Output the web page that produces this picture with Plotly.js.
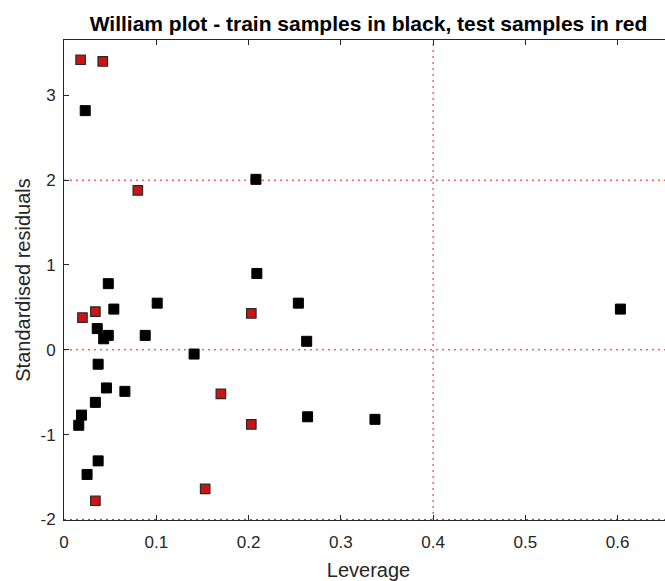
<!DOCTYPE html>
<html>
<head>
<meta charset="utf-8">
<script src="https://cdn.plot.ly/plotly-3.0.1.min.js"></script>
<style>
  html, body { margin: 0; padding: 0; background: #fff; overflow: hidden; }
  #chart { width: 675px; height: 581px; }
</style>
</head>
<body>
<div id="chart"></div>
<script>
// Training samples (black)
const trainLeverage = [0.023, 0.048, 0.101, 0.054, 0.036, 0.043, 0.048, 0.088, 0.141, 0.037,
                       0.046, 0.066, 0.034, 0.019, 0.016, 0.037, 0.025, 0.208, 0.209, 0.254,
                       0.263, 0.264, 0.337, 0.603];
const trainResidual = [2.82, 0.78, 0.55, 0.48, 0.25, 0.13, 0.17, 0.17, -0.05, -0.17,
                       -0.45, -0.49, -0.62, -0.77, -0.89, -1.31, -1.47, 2.01, 0.90, 0.55,
                       0.10, -0.79, -0.82, 0.48];
// Test samples (red)
const testLeverage = [0.018, 0.042, 0.080, 0.020, 0.034, 0.203, 0.170, 0.203, 0.034, 0.153];
const testResidual = [3.42, 3.40, 1.88, 0.38, 0.45, 0.43, -0.52, -0.88, -1.78, -1.64];
// Thresholds
const residualLimits = [-2, 0, 2];
const leverageLimit = 0.4;
const xTicks = [0, 0.1, 0.2, 0.3, 0.4, 0.5, 0.6];
const xTickText = ['0', '0.1', '0.2', '0.3', '0.4', '0.5', '0.6'];
const yTicks = [-2, -1, 0, 1, 2, 3];
const yTickText = ['-2', '-1', '0', '1', '2', '3'];

const axisColor = '#262626';
const fontFamily = 'Arial, "Liberation Sans", Helvetica, sans-serif';

const traces = [
  {
    x: trainLeverage, y: trainResidual, type: 'scatter', mode: 'markers',
    name: 'train', hoverinfo: 'skip',
    marker: { symbol: 'square', size: 10, color: '#000000', line: { color: '#000000', width: 1 } }
  },
  {
    x: testLeverage, y: testResidual, type: 'scatter', mode: 'markers',
    name: 'test', hoverinfo: 'skip',
    marker: { symbol: 'square', size: 9.5, color: '#cc1414', line: { color: '#2a2a2a', width: 1.2 } }
  }
];

const dotted = { color: '#e02020', width: 1, dash: '2px,4px' };
const shapes = residualLimits.map(v => ({
  type: 'line', xref: 'paper', x0: 0, x1: 1, yref: 'y', y0: v, y1: v,
  line: dotted, layer: 'below'
}));
shapes.push({
  type: 'line', xref: 'x', x0: leverageLimit, x1: leverageLimit, yref: 'paper', y0: 0, y1: 1,
  line: dotted, layer: 'below'
});

const layout = {
  width: 675, height: 581,
  margin: { l: 64, r: 2, t: 40, b: 61 },
  paper_bgcolor: '#ffffff', plot_bgcolor: '#ffffff',
  showlegend: false,
  font: { family: fontFamily, color: axisColor },
  title: {
    text: '<b>William plot - train samples in black, test samples in red</b>',
    font: { family: fontFamily, size: 21, color: '#000000' },
    x: 0.5, xref: 'paper', xanchor: 'center',
    y: 1, yref: 'paper', yanchor: 'bottom', pad: { b: 9 }
  },
  xaxis: {
    range: [0, 0.66],
    tickvals: xTicks, ticktext: xTickText,
    ticks: 'inside', ticklen: 5, tickcolor: axisColor, tickwidth: 1,
    showline: true, linecolor: axisColor, linewidth: 1, mirror: 'ticks',
    showgrid: false, zeroline: false,
    ticklabelstandoff: 7,
    tickfont: { size: 17, color: axisColor },
    title: { text: 'Leverage', font: { size: 20, color: axisColor }, standoff: 12 }
  },
  yaxis: {
    range: [-2.007, 3.653],
    tickvals: yTicks, ticktext: yTickText,
    ticks: 'inside', ticklen: 5, tickcolor: axisColor, tickwidth: 1,
    showline: true, linecolor: axisColor, linewidth: 1, mirror: 'ticks',
    showgrid: false, zeroline: false,
    ticklabelstandoff: 4,
    tickfont: { size: 17, color: axisColor },
    title: { text: 'Standardised residuals', font: { size: 20, color: axisColor }, standoff: 4 }
  },
  shapes: shapes
};

Plotly.newPlot('chart', traces, layout, { displayModeBar: false, staticPlot: true });
</script>
</body>
</html>
